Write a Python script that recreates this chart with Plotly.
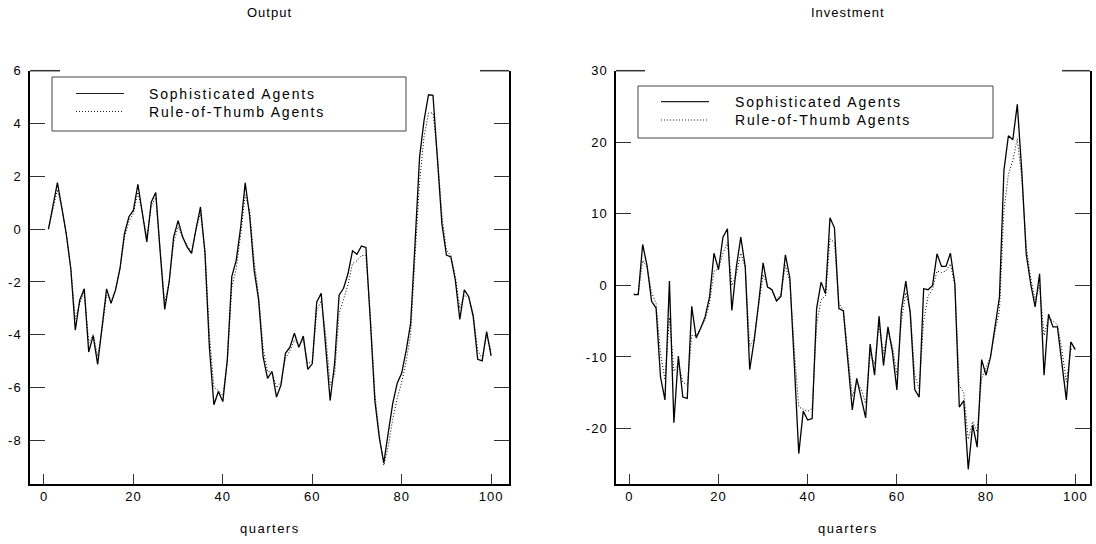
import plotly.graph_objects as go

quarters = list(range(1, 101))

output_soph = [0.0, 0.9, 1.76, 0.8, -0.2, -1.5, -3.82, -2.68, -2.26, -4.65,
               -4.03, -5.12, -3.7, -2.26, -2.81, -2.3, -1.49, -0.16, 0.47, 0.72,
               1.7, 0.6, -0.48, 1.03, 1.39, -0.9, -3.04, -1.99, -0.29, 0.32,
               -0.29, -0.67, -0.92, 0.0, 0.84, -0.9, -4.5, -6.65, -6.15, -6.53,
               -4.95, -1.8, -1.17, 0.09, 1.75, 0.5, -1.55, -2.68, -4.83, -5.65,
               -5.39, -6.36, -5.9, -4.7, -4.47, -3.94, -4.47, -4.05, -5.31, -5.1,
               -2.76, -2.43, -4.32, -6.49, -5.08, -2.5, -2.24, -1.68, -0.82, -0.95,
               -0.64, -0.69, -3.5, -6.5, -7.9, -8.85, -7.7, -6.6, -5.83, -5.45,
               -4.6, -3.57, -0.5, 2.73, 4.12, 5.09, 5.07, 2.6, 0.2, -0.98,
               -1.05, -1.93, -3.42, -2.3, -2.56, -3.31, -4.93, -4.99, -3.88, -4.8]

output_rot = [0.0, 0.8, 1.5, 0.8, -0.2, -1.5, -3.4, -2.8, -2.4, -4.3,
              -4.0, -4.8, -3.8, -2.5, -2.7, -2.3, -1.5, -0.3, 0.3, 0.6,
              1.4, 0.6, -0.3, 0.9, 1.2, -0.8, -2.8, -2.0, -0.5, 0.1,
              -0.3, -0.6, -0.9, 0.0, 0.6, -0.8, -4.0, -6.0, -6.1, -6.3,
              -5.0, -2.2, -1.5, -0.2, 1.3, 0.7, -1.2, -2.5, -4.5, -5.4,
              -5.4, -6.0, -5.8, -4.9, -4.6, -4.2, -4.4, -4.2, -5.1, -5.0,
              -3.1, -2.7, -4.0, -5.9, -5.5, -3.2, -2.6, -2.1, -1.3, -1.2,
              -1.0, -1.0, -3.3, -6.2, -7.8, -8.95, -8.2, -7.2, -6.4, -5.8,
              -5.0, -4.0, -1.0, 1.8, 3.5, 4.4, 4.4, 2.8, 0.5, -0.8,
              -1.0, -1.8, -3.0, -2.5, -2.6, -3.2, -4.6, -4.9, -4.0, -4.6]

invest_soph = [-1.3, -1.3, 5.72, 2.7, -2.23, -3.16, -12.8, -16.0, 0.6, -19.2,
               -9.86, -15.6, -15.8, -2.93, -7.35, -6.0, -4.4, -1.6, 4.5, 2.2,
               6.74, 7.9, -3.5, 2.55, 6.74, 2.6, -11.76, -7.67, -2.5, 3.16,
               -0.23, -0.6, -2.19, -1.53, 4.28, 1.07, -11.0, -23.5, -17.57, -18.8,
               -18.6, -3.25, 0.46, -1.16, 9.44, 8.04, -3.25, -3.58, -10.5, -17.4,
               -13.0, -15.6, -18.5, -8.2, -12.55, -4.3, -11.2, -5.8, -9.3, -14.6,
               -3.5, 0.6, -3.95, -14.55, -15.6, -0.46, -0.6, 0.0, 4.42, 2.65,
               2.65, 4.5, 0.23, -17.0, -16.1, -25.7, -19.5, -22.6, -10.37, -12.55,
               -10.0, -5.8, -1.63, 16.04, 20.9, 20.36, 25.3, 16.0, 4.42, 0.23,
               -3.0, 1.63, -12.55, -4.04, -5.8, -5.8, -11.0, -16.0, -7.9, -8.97]

invest_rot = [-1.2, -1.2, 3.5, 2.5, -1.0, -2.5, -9.5, -13.2, -4.5, -12.0,
              -11.0, -13.5, -14.0, -7.0, -7.0, -6.0, -4.8, -2.5, 2.0, 2.3,
              4.5, 6.0, 0.0, 1.5, 4.5, 2.5, -8.5, -7.5, -2.8, 1.5,
              0.0, -0.8, -2.0, -1.2, 2.8, 0.5, -9.0, -17.0, -17.3, -17.6,
              -17.2, -5.5, -2.0, -1.5, 6.5, 6.0, -2.5, -3.5, -9.5, -15.5,
              -13.5, -14.5, -16.5, -9.5, -11.0, -5.5, -9.5, -6.5, -8.5, -12.5,
              -5.0, -1.0, -3.5, -12.5, -14.5, -5.0, -1.5, -0.5, 2.0, 1.8,
              2.0, 3.0, 0.0, -14.0, -15.0, -21.5, -19.0, -20.5, -13.0, -11.5,
              -10.0, -6.5, -3.5, 10.5, 15.5, 17.5, 20.5, 15.0, 5.5, 1.0,
              -2.0, 0.0, -7.0, -4.5, -5.0, -5.5, -9.0, -13.5, -9.0, -8.5]

x_ticks = [0, 20, 40, 60, 80, 100]
output_ticks = [-8, -6, -4, -2, 0, 2, 4, 6]
invest_ticks = [-20, -10, 0, 10, 20, 30]
series_names = ["Sophisticated Agents", "Rule-of-Thumb Agents"]
panel_titles = ["Output", "Investment"]
x_title = "quarters"

W, H = 1096, 544
FONT = "Liberation Sans, Arial, sans-serif"


def fx(p):
    return p / W


def fy(p):
    return 1 - p / H


def spaced(s, sp):
    return '<span style="letter-spacing:%spx">%s</span>' % (sp, s)


fig = go.Figure()
fig.add_trace(go.Scatter(x=quarters, y=output_rot, mode="lines", name=series_names[1],
                         line=dict(color="black", width=1, dash="1px,2px"), xaxis="x", yaxis="y"))
fig.add_trace(go.Scatter(x=quarters, y=output_soph, mode="lines", name=series_names[0],
                         line=dict(color="black", width=1.3), xaxis="x", yaxis="y"))
fig.add_trace(go.Scatter(x=quarters, y=invest_rot, mode="lines", name=series_names[1],
                         line=dict(color="black", width=1, dash="1px,2px"), xaxis="x2", yaxis="y2"))
fig.add_trace(go.Scatter(x=quarters, y=invest_soph, mode="lines", name=series_names[0],
                         line=dict(color="black", width=1.3), xaxis="x2", yaxis="y2"))

axis_common = dict(showgrid=False, zeroline=False, showline=True, linecolor="black",
                   linewidth=1.5, ticks="inside", tickcolor="#333", tickwidth=1,
                   tickfont=dict(family=FONT, size=13, color="black"))

TSP = 1

fig.update_layout(
    width=W, height=H, plot_bgcolor="white", paper_bgcolor="white",
    margin=dict(l=0, r=0, t=0, b=0, autoexpand=False), showlegend=False,
    xaxis=dict(domain=[fx(30), fx(509)], range=[-3.13, 104.0], tickvals=x_ticks,
               ticktext=[spaced(str(v), TSP) for v in x_ticks],
               ticklen=10, anchor="y", **axis_common),
    yaxis=dict(domain=[fy(484), fy(70.7)], range=[-9.65, 6.0], tickvals=output_ticks,
               ticktext=[spaced(str(v), TSP) for v in output_ticks],
               ticklen=15, anchor="x", mirror="ticks", ticklabelstandoff=4, **axis_common),
    xaxis2=dict(domain=[fx(616), fx(1090)], range=[-2.98, 103.3], tickvals=x_ticks,
                ticktext=[spaced(str(v), TSP) for v in x_ticks],
                ticklen=10, anchor="y2", **axis_common),
    yaxis2=dict(domain=[fy(484), fy(70.7)], range=[-27.75, 30.0], tickvals=invest_ticks,
                ticktext=[spaced(str(v), TSP) for v in invest_ticks],
                ticklen=15, anchor="x2", mirror="ticks", ticklabelstandoff=4, **axis_common),
)

annotations = []
shapes = []
for title, cx in zip(panel_titles, [269.5, 848]):
    annotations.append(dict(text=spaced(title, 1), x=fx(cx), y=fy(12.5), xref="paper", yref="paper",
                            showarrow=False, xanchor="center", yanchor="middle",
                            font=dict(family=FONT, size=13, color="black")))
    annotations.append(dict(text=spaced(x_title, 1.5), x=fx(cx), y=fy(528), xref="paper",
                            yref="paper", showarrow=False, xanchor="center", yanchor="middle",
                            font=dict(family=FONT, size=13, color="black")))

for (a, b) in [(30, 60), (480, 509), (616, 645), (1062, 1090)]:
    shapes.append(dict(type="line", xref="paper", yref="paper", x0=fx(a), x1=fx(b),
                       y0=fy(70.7), y1=fy(70.7), line=dict(color="#333", width=1.5)))

legends = [
    dict(box=(52, 77, 406, 131), sx=(76, 124), ys=(93.5, 111.5), tx=147),
    dict(box=(638, 86, 993, 138), sx=(661, 709), ys=(101.7, 120), tx=733),
]
for lg in legends:
    x0, y0, x1, y1 = lg["box"]
    shapes.append(dict(type="rect", xref="paper", yref="paper", x0=fx(x0), x1=fx(x1),
                       y0=fy(y1), y1=fy(y0), line=dict(color="#444", width=1),
                       fillcolor="white", layer="above"))
    for i, (name, dash, w) in enumerate(zip(series_names, ["solid", "1px,2px"], [1.2, 1])):
        yy = lg["ys"][i]
        shapes.append(dict(type="line", xref="paper", yref="paper", x0=fx(lg["sx"][0]),
                           x1=fx(lg["sx"][1]), y0=fy(yy), y1=fy(yy),
                           line=dict(color="#222", width=w, dash=dash), layer="above"))
        annotations.append(dict(text=spaced(name, 1.8), x=fx(lg["tx"]), y=fy(yy), xref="paper",
                                yref="paper", showarrow=False, xanchor="left", yanchor="middle",
                                font=dict(family=FONT, size=14, color="black")))

fig.update_layout(annotations=annotations, shapes=shapes)
fig.write_html("out.html", config={"displayModeBar": False},
               post_script="document.body.style.margin='0';document.body.style.overflow='hidden';")
